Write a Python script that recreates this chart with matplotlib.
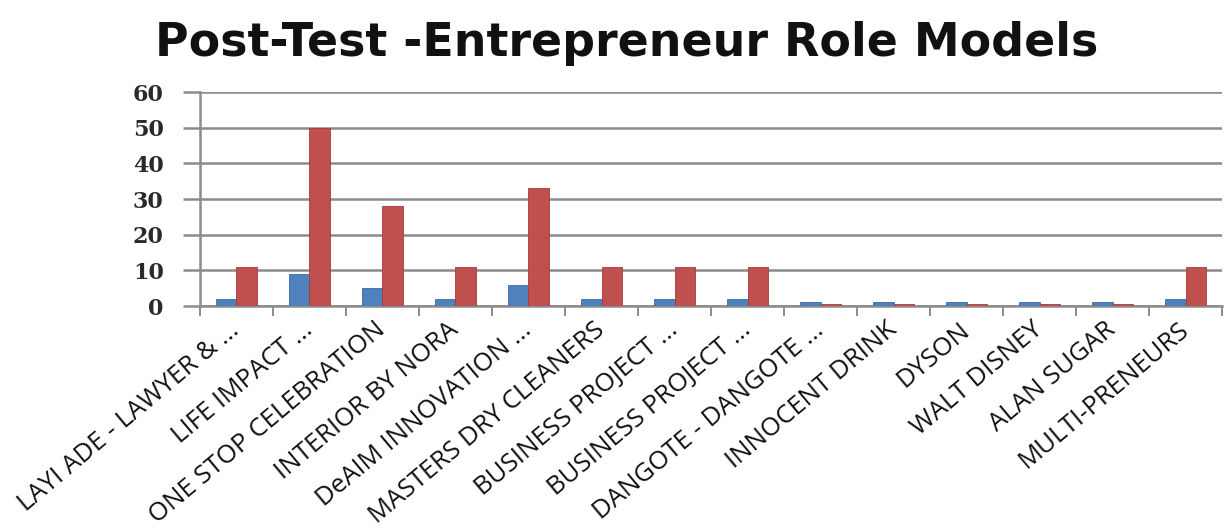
import matplotlib
matplotlib.use("Agg")
import matplotlib.pyplot as plt
import numpy as np

categories = ["LAYI ADE - LAWYER & ...", "LIFE IMPACT ...", "ONE STOP CELEBRATION",
              "INTERIOR BY NORA", "DeAIM INNOVATION ...", "MASTERS DRY CLEANERS",
              "BUSINESS PROJECT ...", "BUSINESS PROJECT ...", "DANGOTE - DANGOTE ...",
              "INNOCENT DRINK", "DYSON", "WALT DISNEY", "ALAN SUGAR", "MULTI-PRENEURS"]
series_blue = [2, 9, 5, 2, 6, 2, 2, 2, 1, 1, 1, 1, 1, 2]
series_red = [11, 50, 28, 11, 33, 11, 11, 11, 0.5, 0.5, 0.5, 0.5, 0.5, 11]
yticks = [0, 10, 20, 30, 40, 50, 60]
title = "Post-Test -Entrepreneur Role Models"

fig = plt.figure(figsize=(12.26, 5.30), dpi=100)
ax = fig.add_axes([0.163, 0.4226, 0.834, 0.4038])

x = np.arange(len(categories))
w = 0.28
ax.bar(x - w/2, series_blue, width=w, color="#4F81BD", edgecolor="#3A6A9E", linewidth=0.6, zorder=3)
ax.bar(x + w/2, series_red, width=w, color="#C0504D", edgecolor="#A03C3A", linewidth=0.6, zorder=3)

ax.set_xlim(-0.5, len(categories) - 0.5)
ax.set_ylim(0, 60)
ax.set_yticks(yticks)
ax.set_yticklabels([str(t) for t in yticks], fontfamily="DejaVu Serif",
                   fontweight="bold", fontsize=16, color="#2a2a2a")
ax.yaxis.grid(True, color="#8C8C8C", linewidth=1.8, zorder=0)
ax.tick_params(axis="y", length=12, color="#8C8C8C", width=1.8, pad=14)

ax.set_xticks(x)
ax.set_xticklabels(categories, rotation=40, ha="right", va="center",
                   rotation_mode="anchor", fontfamily="Open Sans", fontsize=18.5,
                   color="#111111")
ax.tick_params(axis="x", length=0, pad=15)
ax.set_xticks(np.arange(len(categories) + 1) - 0.5, minor=True)
ax.tick_params(axis="x", which="minor", length=7, color="#8C8C8C", width=1.4)

for s in ["top", "right"]:
    ax.spines[s].set_visible(False)
for s in ["bottom", "left"]:
    ax.spines[s].set_color("#8C8C8C")
    ax.spines[s].set_linewidth(1.8)

fig.text(0.511, 0.918, title, ha="center", va="center", fontfamily="DejaVu Sans",
         fontweight="bold", fontsize=33, color="#111111")

fig.savefig("out.png", dpi=100)
